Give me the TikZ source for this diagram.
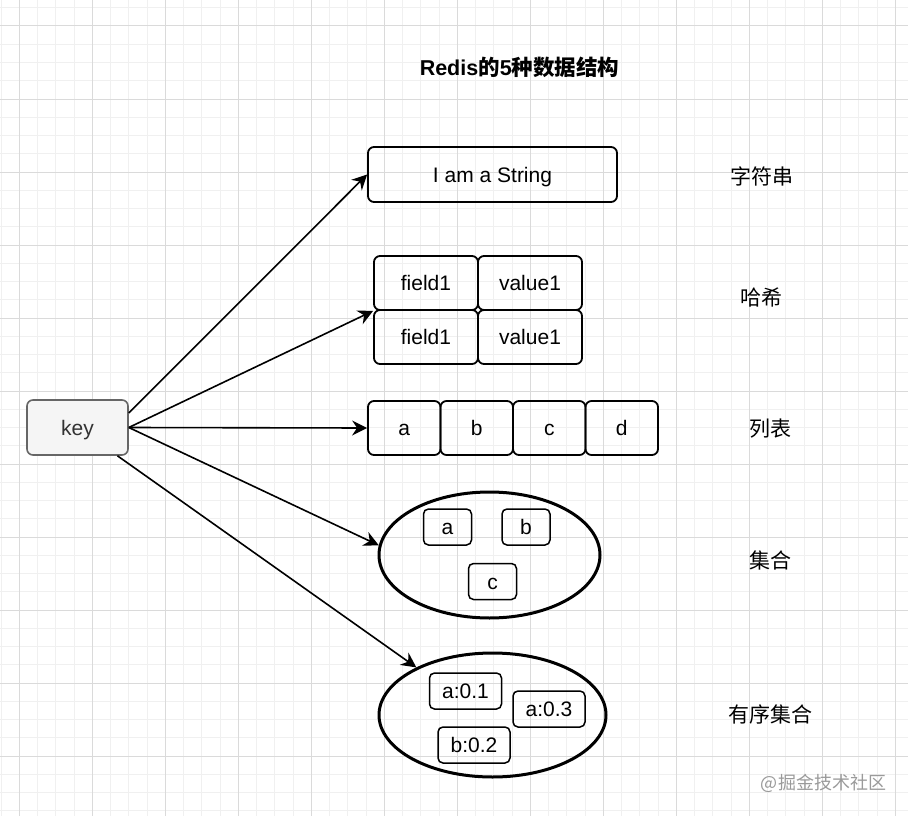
\documentclass[tikz,border=0pt]{standalone}
\usepackage{fontspec}
\setmainfont{Liberation Sans}
\newfontfamily\cjk{Noto Sans CJK SC}
\usetikzlibrary{arrows.meta,shapes.geometric,calc}
\definecolor{minorgrid}{HTML}{F0F0F0}
\definecolor{majorgrid}{HTML}{DADADA}
\definecolor{keyfill}{HTML}{F5F5F5}
\definecolor{keydraw}{HTML}{666666}
\definecolor{keytext}{HTML}{333333}
\definecolor{wmark}{HTML}{9A9A9A}
\begin{document}
\begin{tikzpicture}[x=1pt,y=-1pt,
  txt/.style={font=\fontsize{21}{24}\selectfont,text height=15pt,text depth=0pt},
  box/.style={draw=black,line width=1.8pt,rounded corners=6pt,inner sep=0pt,txt},
  strbox/.style={box,minimum width=249pt,minimum height=55pt},
  hcell/.style={box,minimum width=104pt,minimum height=54pt},
  lcell/.style={box,minimum width=72.5pt,minimum height=54pt},
  scell/.style={box,minimum width=48pt,minimum height=36pt,line width=1.5pt,rounded corners=5pt},
  zcell/.style={box,minimum width=72pt,minimum height=36pt,line width=1.5pt,rounded corners=5pt},
  ell/.style={ellipse,draw=black,line width=3pt,inner sep=0pt},
  lab/.style={font=\cjk\fontsize{21}{24}\selectfont},
  conn/.style={-{Stealth[length=15pt,width=15pt,inset=5pt]},line width=1.6pt}
]
\useasboundingbox (0,0) rectangle (908,816);
\fill[white] (0,0) rectangle (908,816);
% grid
\foreach \i in {-1,...,48} \draw[minorgrid,line width=1pt] ({19.3+18.25*\i},0) -- ({19.3+18.25*\i},816);
\foreach \i in {-1,...,43} \draw[minorgrid,line width=1pt] (0,{26+18.25*\i}) -- (908,{26+18.25*\i});
\foreach \i in {0,...,12} \draw[majorgrid,line width=1pt] ({19.3+73*\i},0) -- ({19.3+73*\i},816);
\foreach \i in {0,...,10} \draw[majorgrid,line width=1pt] (0,{26+73*\i}) -- (908,{26+73*\i});

% title
\node (title) at (519.5,67) {\fontsize{21.5}{24}\selectfont\bfseries Redis{\cjk\bfseries 的}5{\cjk\bfseries 种数据结构}};

% key
\node[box,draw=keydraw,fill=keyfill,text=keytext,line width=1.6pt,minimum width=101pt,minimum height=55pt] (key) at (77.5,427.5) {key};

% string
\node[strbox] (str) at (492.5,174.5) {I am a String};

% hash
\node[hcell] (hf1) at (426,283) {field1};
\node[hcell] (hv1) at (530,283) {value1};
\node[hcell] (hf2) at (426,337) {field1};
\node[hcell] (hv2) at (530,337) {value1};

% list
\node[lcell] (la) at (404.25,428) {a};
\node[lcell] (lb) at (476.75,428) {b};
\node[lcell] (lc) at (549.25,428) {c};
\node[lcell] (ld) at (621.75,428) {d};

% set
\node[ell,minimum width=221pt,minimum height=126pt] (set) at (489.5,555) {};
\node[scell] (sa) at (447.5,527) {a};
\node[scell] (sb) at (526,527) {b};
\node[scell] (sc) at (492.5,581.5) {c};

% sorted set
\node[ell,minimum width=227pt,minimum height=124pt] (zset) at (492.5,715) {};
\node[zcell] (za) at (465.5,691) {a:0.1};
\node[zcell] (zc) at (549,709) {a:0.3};
\node[zcell] (zb) at (474,745) {b:0.2};

% labels
\node[lab] (l1) at (761.5,176) {字符串};
\node[lab] (l2) at (761,298) {哈希};
\node[lab] (l3) at (770,429) {列表};
\node[lab] (l4) at (770,560) {集合};
\node[lab] (l5) at (770.5,714) {有序集合};

% connectors
\draw[conn] ([yshift=14.5pt]key.east) -- (str.west);
\draw[conn] (key.east) -- (hf1.south west);
\draw[conn] (key.east) -- (la.west);
\draw[conn] (key.east) -- (set.175);
\draw[conn] (key) -- (zset.148);

% watermark
\node[font=\cjk\fontsize{18}{20}\selectfont,text=wmark] (wm) at (823.5,783.5) {@掘金技术社区};
\end{tikzpicture}
\end{document}
